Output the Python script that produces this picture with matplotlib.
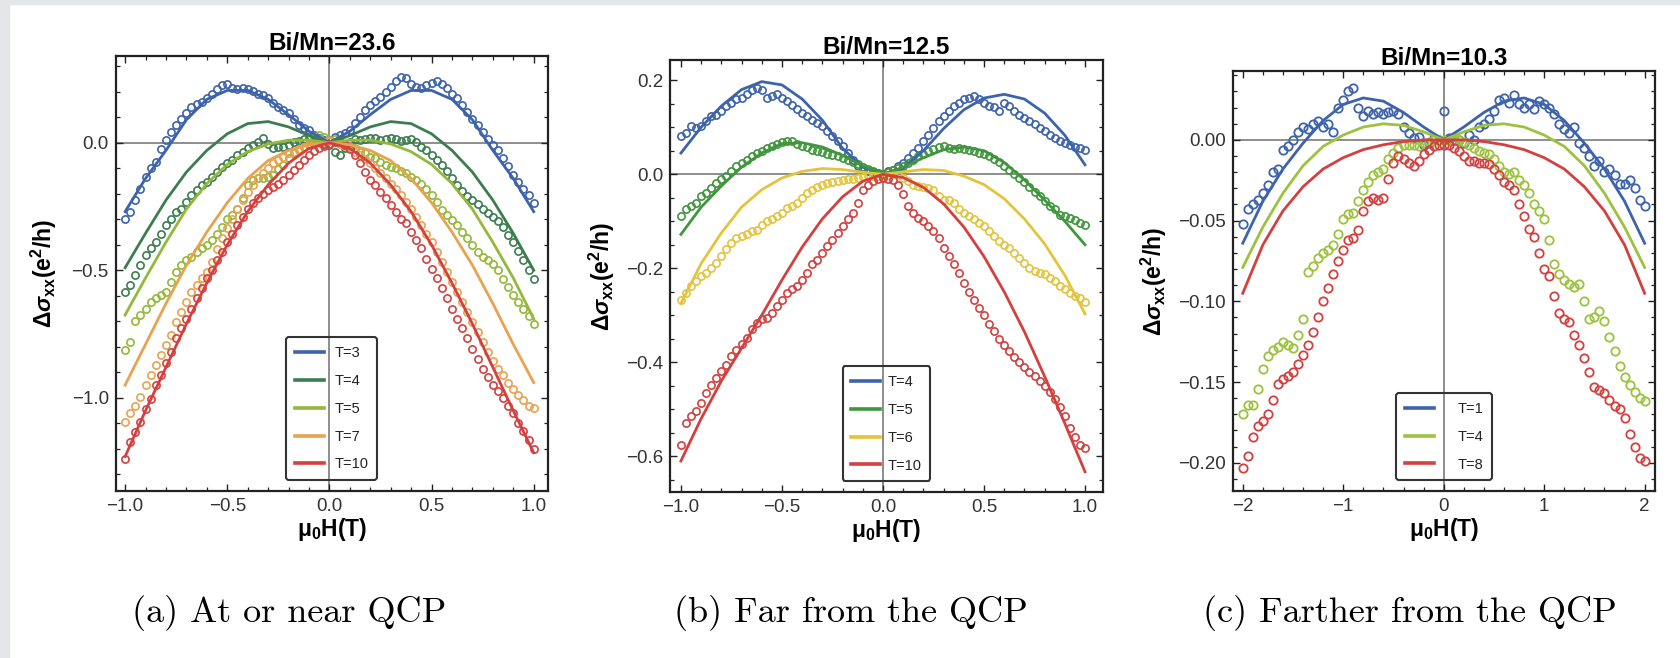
import numpy as np
import matplotlib
matplotlib.use('Agg')
import matplotlib.pyplot as plt
from matplotlib.ticker import MultipleLocator
from matplotlib.patches import Rectangle

plt.rcParams['font.family'] = ['Liberation Sans', 'DejaVu Sans']
plt.rcParams['mathtext.fontset'] = 'custom'
plt.rcParams['mathtext.rm'] = 'Liberation Sans'
plt.rcParams['mathtext.it'] = 'Liberation Sans:italic'
plt.rcParams['mathtext.bf'] = 'Liberation Sans:bold'
plt.rcParams['mathtext.bfit'] = 'Liberation Sans:italic:bold'

# ---- panel (a): Bi/Mn=23.6, field sweep -1..1 T, step 0.025 ----
h_a = np.linspace(-1.0, 1.0, 81)
a_t3 = [-0.30, -0.27, -0.225, -0.18, -0.135, -0.10, -0.075, -0.025, 0.012, 0.043,
        0.068, 0.095, 0.115, 0.14, 0.15, 0.16, 0.175, 0.193, 0.21, 0.225,
        0.232, 0.214, 0.21, 0.216, 0.21, 0.203, 0.193, 0.186, 0.174, 0.155,
        0.141, 0.128, 0.115, 0.095, 0.07, 0.058, 0.05, 0.032, 0.02, 0.01,
        0.012, 0.022, 0.03, 0.037, 0.05, 0.076, 0.10, 0.128, 0.148, 0.163,
        0.18, 0.20, 0.22, 0.242, 0.258, 0.252, 0.232, 0.22, 0.213, 0.226,
        0.236, 0.242, 0.232, 0.213, 0.193, 0.174, 0.148, 0.122, 0.095, 0.069,
        0.043, 0.014, -0.009, -0.03, -0.06, -0.09, -0.125, -0.155, -0.18, -0.205,
        -0.235]
a_t4 = [-0.584, -0.558, -0.519, -0.48, -0.44, -0.414, -0.388, -0.356, -0.323, -0.297,
        -0.27, -0.258, -0.231, -0.205, -0.186, -0.166, -0.153, -0.133, -0.114, -0.094,
        -0.081, -0.068, -0.048, -0.035, -0.022, -0.009, 0.004, 0.017, -0.003, -0.022,
        -0.016, -0.016, -0.009, 0.004, 0.007, 0.014, 0.02, 0.014, 0.004, -0.003,
        -0.009, -0.035, -0.048, -0.022, 0.004, 0.014, 0.01, 0.014, 0.02, 0.017,
        0.01, 0.014, 0.02, 0.014, 0.007, 0.01, 0.014, 0.004, -0.016, -0.03,
        -0.048, -0.068, -0.088, -0.112, -0.14, -0.165, -0.19, -0.21, -0.225, -0.242,
        -0.258, -0.274, -0.29, -0.305, -0.33, -0.36, -0.39, -0.425, -0.46, -0.50,
        -0.535]
a_t5 = [-0.813, -0.78, -0.70, -0.676, -0.65, -0.624, -0.61, -0.597, -0.584, -0.545,
        -0.506, -0.48, -0.46, -0.447, -0.427, -0.414, -0.401, -0.382, -0.356, -0.33,
        -0.297, -0.284, -0.258, -0.218, -0.166, -0.146, -0.14, -0.137, -0.133, -0.127,
        -0.101, -0.088, -0.061, -0.042, -0.029, -0.016, -0.003, 0.017, 0.03, 0.024,
        0.01, 0.014, 0.004, -0.009, -0.016, -0.022, -0.035, -0.042, -0.055, -0.061,
        -0.075, -0.088, -0.094, -0.10, -0.111, -0.12, -0.133, -0.146, -0.16, -0.18,
        -0.205, -0.231, -0.264, -0.284, -0.303, -0.323, -0.349, -0.375, -0.401, -0.427,
        -0.447, -0.46, -0.475, -0.50, -0.535, -0.565, -0.595, -0.625, -0.65, -0.68,
        -0.71]
a_t7 = [-1.094, -1.06, -1.03, -0.996, -0.95, -0.91, -0.872, -0.833, -0.793, -0.754,
        -0.702, -0.663, -0.624, -0.584, -0.558, -0.532, -0.506, -0.467, -0.415, -0.375,
        -0.336, -0.297, -0.258, -0.225, -0.192, -0.166, -0.14, -0.12, -0.10, -0.081,
        -0.068, -0.055, -0.042, -0.035, -0.025, -0.016, -0.009, -0.004, -0.001, 0.004,
        0.007, 0.004, -0.003, -0.012, -0.022, -0.035, -0.048, -0.064, -0.081, -0.10,
        -0.12, -0.14, -0.16, -0.18, -0.205, -0.231, -0.258, -0.29, -0.323, -0.356,
        -0.388, -0.427, -0.467, -0.506, -0.545, -0.584, -0.624, -0.663, -0.702, -0.741,
        -0.78, -0.82, -0.855, -0.885, -0.91, -0.94, -0.965, -0.99, -1.01, -1.03,
        -1.04]
a_t10 = [-1.24, -1.173, -1.133, -1.094, -1.042, -1.003, -0.95, -0.911, -0.865, -0.82,
         -0.767, -0.728, -0.689, -0.65, -0.61, -0.571, -0.532, -0.50, -0.46, -0.427,
         -0.388, -0.356, -0.323, -0.29, -0.258, -0.238, -0.218, -0.199, -0.186, -0.173,
         -0.16, -0.146, -0.127, -0.107, -0.088, -0.068, -0.048, -0.033, -0.022, -0.012,
         -0.003, 0.004, 0.002, -0.009, -0.025, -0.048, -0.081, -0.114, -0.146, -0.166,
         -0.192, -0.218, -0.244, -0.27, -0.297, -0.316, -0.349, -0.382, -0.414, -0.454,
         -0.493, -0.532, -0.571, -0.61, -0.65, -0.689, -0.728, -0.767, -0.807, -0.846,
         -0.885, -0.918, -0.95, -0.975, -1.0, -1.03, -1.06, -1.10, -1.13, -1.165,
         -1.20]

# fitted curves, sampled every 0.1 T
hf_a = np.linspace(-1.0, 1.0, 21)
fa_t3 = [-0.27, -0.14, -0.03, 0.09, 0.17, 0.205, 0.205, 0.17, 0.11, 0.045, 0.0,
         0.045, 0.11, 0.17, 0.205, 0.205, 0.17, 0.09, -0.03, -0.14, -0.27]
fa_t4 = [-0.49, -0.355, -0.225, -0.115, -0.03, 0.035, 0.075, 0.083, 0.062, 0.028, 0.0,
         0.028, 0.062, 0.083, 0.075, 0.035, -0.03, -0.115, -0.225, -0.355, -0.50]
fa_t5 = [-0.675, -0.53, -0.39, -0.26, -0.16, -0.085, -0.035, -0.005, 0.01, 0.01, 0.0,
         0.01, 0.01, -0.005, -0.035, -0.085, -0.16, -0.26, -0.39, -0.53, -0.69]
fa_t7 = [-0.95, -0.79, -0.63, -0.48, -0.35, -0.235, -0.14, -0.07, -0.03, -0.008, 0.0,
         -0.008, -0.03, -0.07, -0.14, -0.235, -0.35, -0.48, -0.63, -0.79, -0.94]
fa_t10 = [-1.23, -1.05, -0.88, -0.71, -0.55, -0.40, -0.27, -0.165, -0.08, -0.022, 0.0,
          -0.022, -0.08, -0.165, -0.27, -0.40, -0.55, -0.71, -0.88, -1.05, -1.215]

# ---- panel (b): Bi/Mn=12.5 ----
h_b = np.linspace(-1.0, 1.0, 81)
b_t4 = [0.081, 0.088, 0.102, 0.099, 0.102, 0.113, 0.123, 0.127, 0.134, 0.145,
        0.152, 0.159, 0.162, 0.17, 0.18, 0.184, 0.18, 0.162, 0.166, 0.17,
        0.162, 0.155, 0.148, 0.138, 0.13, 0.123, 0.116, 0.109, 0.102, 0.091,
        0.081, 0.07, 0.06, 0.045, 0.031, 0.017, 0.01, 0.006, 0.004, 0.003,
        0.001, 0.006, 0.01, 0.017, 0.024, 0.035, 0.045, 0.056, 0.07, 0.084,
        0.099, 0.113, 0.123, 0.134, 0.145, 0.152, 0.159, 0.162, 0.166, 0.159,
        0.152, 0.145, 0.142, 0.134, 0.152, 0.145, 0.134, 0.127, 0.12, 0.113,
        0.106, 0.099, 0.091, 0.084, 0.077, 0.07, 0.066, 0.062, 0.058, 0.055,
        0.052]
b_t5 = [-0.089, -0.075, -0.068, -0.061, -0.047, -0.04, -0.029, -0.018, -0.011, -0.004,
        0.006, 0.017, 0.024, 0.031, 0.038, 0.045, 0.049, 0.056, 0.06, 0.065,
        0.068, 0.07, 0.07, 0.065, 0.061, 0.058, 0.052, 0.049, 0.047, 0.044,
        0.041, 0.038, 0.035, 0.03, 0.026, 0.021, 0.016, 0.011, 0.007, 0.003,
        0.001, 0.004, 0.01, 0.013, 0.018, 0.024, 0.031, 0.038, 0.044, 0.049,
        0.054, 0.058, 0.06, 0.056, 0.054, 0.056, 0.054, 0.052, 0.049, 0.045,
        0.042, 0.038, 0.033, 0.026, 0.017, 0.01, 0.001, -0.008, -0.017, -0.027,
        -0.038, -0.047, -0.057, -0.067, -0.075, -0.086, -0.088, -0.093, -0.098, -0.103,
        -0.107]
b_t6 = [-0.267, -0.252, -0.238, -0.228, -0.217, -0.21, -0.199, -0.189, -0.174, -0.16,
        -0.146, -0.135, -0.132, -0.128, -0.121, -0.118, -0.107, -0.10, -0.096, -0.089,
        -0.082, -0.072, -0.068, -0.061, -0.05, -0.04, -0.033, -0.027, -0.022, -0.018,
        -0.017, -0.015, -0.013, -0.011, -0.01, -0.008, -0.006, -0.004, -0.003, -0.003,
        -0.003, -0.002, 0.001, -0.002, -0.008, -0.015, -0.022, -0.026, -0.027, -0.029,
        -0.033, -0.047, -0.054, -0.055, -0.061, -0.075, -0.082, -0.089, -0.096, -0.104,
        -0.111, -0.121, -0.132, -0.143, -0.15, -0.157, -0.167, -0.178, -0.189, -0.199,
        -0.206, -0.21, -0.213, -0.221, -0.228, -0.238, -0.245, -0.252, -0.258, -0.264,
        -0.272]
b_t10 = [-0.575, -0.529, -0.515, -0.504, -0.487, -0.465, -0.448, -0.433, -0.419, -0.405,
         -0.387, -0.373, -0.362, -0.348, -0.33, -0.316, -0.309, -0.306, -0.295, -0.281,
         -0.267, -0.252, -0.245, -0.238, -0.224, -0.21, -0.192, -0.182, -0.167, -0.153,
         -0.139, -0.125, -0.111, -0.096, -0.082, -0.061, -0.033, -0.022, -0.015, -0.01,
         -0.008, -0.01, -0.013, -0.022, -0.043, -0.068, -0.082, -0.093, -0.10, -0.111,
         -0.121, -0.135, -0.157, -0.174, -0.192, -0.21, -0.231, -0.25, -0.268, -0.285,
         -0.30, -0.318, -0.334, -0.35, -0.363, -0.376, -0.389, -0.40, -0.41, -0.42,
         -0.43, -0.44, -0.45, -0.463, -0.478, -0.495, -0.515, -0.54, -0.56, -0.575,
         -0.582]

hf_b = np.linspace(-1.0, 1.0, 21)
fb_t4 = [0.045, 0.10, 0.145, 0.18, 0.197, 0.19, 0.16, 0.115, 0.055, 0.015, 0.0,
         0.012, 0.05, 0.097, 0.137, 0.162, 0.17, 0.16, 0.13, 0.083, 0.02]
fb_t5 = [-0.128, -0.07, -0.025, 0.015, 0.045, 0.065, 0.067, 0.058, 0.04, 0.018, 0.0,
         0.015, 0.035, 0.052, 0.058, 0.05, 0.025, -0.012, -0.055, -0.10, -0.15]
fb_t6 = [-0.275, -0.19, -0.125, -0.07, -0.033, -0.008, 0.006, 0.012, 0.01, 0.004, 0.0,
         0.005, 0.01, 0.008, -0.004, -0.022, -0.052, -0.095, -0.148, -0.215, -0.297]
fb_t10 = [-0.61, -0.52, -0.44, -0.37, -0.30, -0.225, -0.155, -0.095, -0.048, -0.015, 0.0,
          -0.007, -0.028, -0.063, -0.112, -0.175, -0.25, -0.335, -0.43, -0.53, -0.633]

# ---- panel (c): Bi/Mn=10.3, field sweep -2..2 T, step 0.05 ----
h_c = np.linspace(-2.0, 2.0, 81)
c_t1 = [-0.052, -0.043, -0.04, -0.037, -0.033, -0.028, -0.02, -0.018, -0.006, -0.004,
        0.0, 0.005, 0.008, 0.007, 0.01, 0.012, 0.008, 0.01, 0.005, 0.02,
        0.025, 0.03, 0.032, 0.02, 0.015, 0.018, 0.016, 0.017, 0.016, 0.017,
        0.018, 0.016, 0.008, 0.004, 0.001, 0.002, -0.003, -0.002, 0.001, 0.0,
        0.018, 0.001, 0.0, 0.0, -0.002, 0.003, 0.0, 0.008, 0.01, 0.013,
        0.018, 0.025, 0.026, 0.023, 0.028, 0.022, 0.02, 0.022, 0.019, 0.024,
        0.022, 0.02, 0.016, 0.01, 0.007, 0.004, 0.008, -0.002, -0.005, -0.01,
        -0.016, -0.013, -0.02, -0.018, -0.022, -0.027, -0.027, -0.025, -0.03, -0.037,
        -0.041]
c_t4 = [-0.17, -0.164, -0.164, -0.154, -0.142, -0.134, -0.13, -0.128, -0.125, -0.127,
        -0.129, -0.121, -0.111, -0.082, -0.078, -0.073, -0.07, -0.068, -0.065, -0.058,
        -0.049, -0.046, -0.045, -0.038, -0.031, -0.026, -0.022, -0.02, -0.018, -0.012,
        -0.008, -0.005, -0.003, -0.003, -0.003, -0.004, -0.002, -0.001, 0.0, 0.0,
        0.0, 0.0, 0.0, 0.0, -0.001, -0.003, -0.005, -0.007, -0.008, -0.009,
        -0.012, -0.016, -0.02, -0.021, -0.02, -0.025, -0.028, -0.033, -0.04, -0.044,
        -0.049, -0.062, -0.077, -0.083, -0.087, -0.089, -0.091, -0.089, -0.10, -0.111,
        -0.11, -0.106, -0.112, -0.122, -0.131, -0.14, -0.147, -0.152, -0.156, -0.16,
        -0.162]
c_t8 = [-0.203, -0.196, -0.184, -0.177, -0.174, -0.17, -0.161, -0.151, -0.148, -0.146,
        -0.144, -0.139, -0.133, -0.127, -0.119, -0.11, -0.10, -0.092, -0.083, -0.075,
        -0.068, -0.062, -0.061, -0.056, -0.044, -0.038, -0.036, -0.037, -0.036, -0.024,
        -0.014, -0.01, -0.012, -0.014, -0.016, -0.013, -0.009, -0.006, -0.004, -0.003,
        -0.003, -0.003, -0.005, -0.007, -0.01, -0.013, -0.013, -0.014, -0.014, -0.015,
        -0.018, -0.022, -0.026, -0.028, -0.031, -0.04, -0.047, -0.055, -0.06, -0.07,
        -0.08, -0.084, -0.097, -0.107, -0.111, -0.113, -0.121, -0.127, -0.135, -0.144,
        -0.153, -0.155, -0.157, -0.161, -0.165, -0.167, -0.172, -0.182, -0.19, -0.197,
        -0.199]

hf_c = np.linspace(-2.0, 2.0, 21)
fc_t1 = [-0.064, -0.038, -0.018, -0.002, 0.012, 0.022, 0.026, 0.024, 0.017, 0.008, 0.0,
         0.008, 0.017, 0.024, 0.026, 0.022, 0.012, -0.002, -0.018, -0.038, -0.064]
fc_t4 = [-0.079, -0.054, -0.033, -0.016, -0.004, 0.003, 0.008, 0.01, 0.009, 0.005, 0.0,
         0.005, 0.009, 0.01, 0.008, 0.003, -0.004, -0.016, -0.033, -0.054, -0.079]
fc_t8 = [-0.095, -0.065, -0.044, -0.029, -0.018, -0.011, -0.006, -0.003, -0.001, 0.0, 0.0,
         0.0, -0.001, -0.003, -0.006, -0.011, -0.018, -0.029, -0.044, -0.065, -0.095]

BLUE = '#3d63ad'
DKGREEN = '#3b7d4f'
LTGREEN = '#94b83a'
ORANGE = '#e9a24f'
RED = '#d3403f'
GREEN = '#3f963c'
YELLOW = '#e4c43c'
YGREEN = '#9dc23e'

TICK_COLOR = '#333333'


def style_axes(ax, xlim, ylim, xmaj, xmin, ymaj, ymin, ypad):
    ax.set_xlim(xlim)
    ax.set_ylim(ylim)
    ax.xaxis.set_major_locator(MultipleLocator(xmaj))
    ax.xaxis.set_minor_locator(MultipleLocator(xmin))
    ax.yaxis.set_major_locator(MultipleLocator(ymaj))
    ax.yaxis.set_minor_locator(MultipleLocator(ymin))
    ax.tick_params(which='both', direction='in', top=True, right=True,
                   colors='#222222', labelcolor=TICK_COLOR, labelsize=13.5)
    ax.tick_params(which='major', length=5, width=1.0, pad=5)
    ax.tick_params(which='minor', length=2.8, width=0.9)
    for sp in ax.spines.values():
        sp.set_linewidth(1.6)
        sp.set_color('#222222')
    ax.axhline(0, color='#7a7a7a', lw=1.2, zorder=0.5)
    ax.axvline(0, color='#7a7a7a', lw=1.2, zorder=0.5)
    ax.set_xlabel(r'$\mathbf{\mu_{0}H(T)}$', fontsize=16.5, labelpad=1)
    ax.set_ylabel(r'$\mathbf{\Delta}\boldsymbol{\sigma}_{\mathbf{xx}}\mathbf{(e^{2}/h)}$',
                  fontsize=16.5, labelpad=ypad)


def panel(ax, h, data, hf, fits, colors, labels, ms, mew, textpad):
    for y, c in zip(data, colors):
        ax.plot(h, y, 'o', ms=ms, mfc='none', mec=c, mew=mew, zorder=2)
    lines = []
    for y, c, lab in zip(fits, colors, labels):
        ln, = ax.plot(hf, y, '-', color=c, lw=2.0, label=lab, zorder=3)
        lines.append(ln)
    leg = ax.legend(handles=lines, loc='lower center', bbox_to_anchor=(0.5, 0.008),
                    fontsize=10.5, frameon=True, fancybox=True, framealpha=1.0,
                    handlelength=2.0, handletextpad=textpad, labelspacing=0.95,
                    borderpad=0.6)
    leg.get_frame().set_facecolor('none')
    leg.get_frame().set_edgecolor('#333333')
    leg.get_frame().set_linewidth(1.5)
    for ln in leg.get_lines():
        ln.set_linewidth(2.6)
    for t in leg.get_texts():
        t.set_color('#222222')


fig = plt.figure(figsize=(16.81, 6.58), dpi=100)
fig.patches.append(Rectangle((0, 0), 9 / 1681, 1, transform=fig.transFigure,
                             color='#e4e6e7', zorder=0))
fig.patches.append(Rectangle((0, 1 - 4 / 658), 1, 4 / 658, transform=fig.transFigure,
                             color='#e4e6e7', zorder=0))

ax1 = fig.add_axes([115.7 / 1681, 167 / 658, 432.3 / 1681, 435 / 658])
ax2 = fig.add_axes([670 / 1681, 166 / 658, 433 / 1681, 432 / 658])
ax3 = fig.add_axes([1233 / 1681, 167 / 658, 422 / 1681, 420 / 658])

panel(ax1, h_a, [a_t3, a_t4, a_t5, a_t7, a_t10], hf_a,
      [fa_t3, fa_t4, fa_t5, fa_t7, fa_t10],
      [BLUE, DKGREEN, LTGREEN, ORANGE, RED],
      ['T=3', 'T=4', 'T=5', 'T=7', 'T=10'], 5.2, 1.2, 0.7)
style_axes(ax1, (-1.046, 1.07), (-1.365, 0.34), 0.5, 0.1, 0.5, 0.1, 9)
ax1.set_title('Bi/Mn=23.6', fontsize=17.5, fontweight='bold', pad=4)

panel(ax2, h_b, [b_t4, b_t5, b_t6, b_t10], hf_b,
      [fb_t4, fb_t5, fb_t6, fb_t10],
      [BLUE, GREEN, YELLOW, RED],
      ['T=4', 'T=5', 'T=6', 'T=10'], 5.2, 1.2, 0.5)
style_axes(ax2, (-1.054, 1.089), (-0.676, 0.243), 0.5, 0.1, 0.2, 0.05, 6)
ax2.set_title('Bi/Mn=12.5', fontsize=17.5, fontweight='bold', pad=4)

panel(ax3, h_c, [c_t1, c_t4, c_t8], hf_c,
      [fc_t1, fc_t4, fc_t8],
      [BLUE, YGREEN, RED],
      ['T=1', 'T=4', 'T=8'], 6.0, 1.3, 1.6)
style_axes(ax3, (-2.097, 2.103), (-0.2175, 0.0427), 1, 0.2, 0.05, 0.01, 7)
ax3.set_title('Bi/Mn=10.3', fontsize=17.5, fontweight='bold', pad=4)

for x, txt in [(289, '(a) At or near QCP'), (851, '(b) Far from the QCP'),
               (1410, '(c) Farther from the QCP')]:
    fig.text(x / 1681, 45 / 658, txt, ha='center', va='center',
             fontsize=26, family='cmr10')

fig.savefig('out.png', dpi=100)
